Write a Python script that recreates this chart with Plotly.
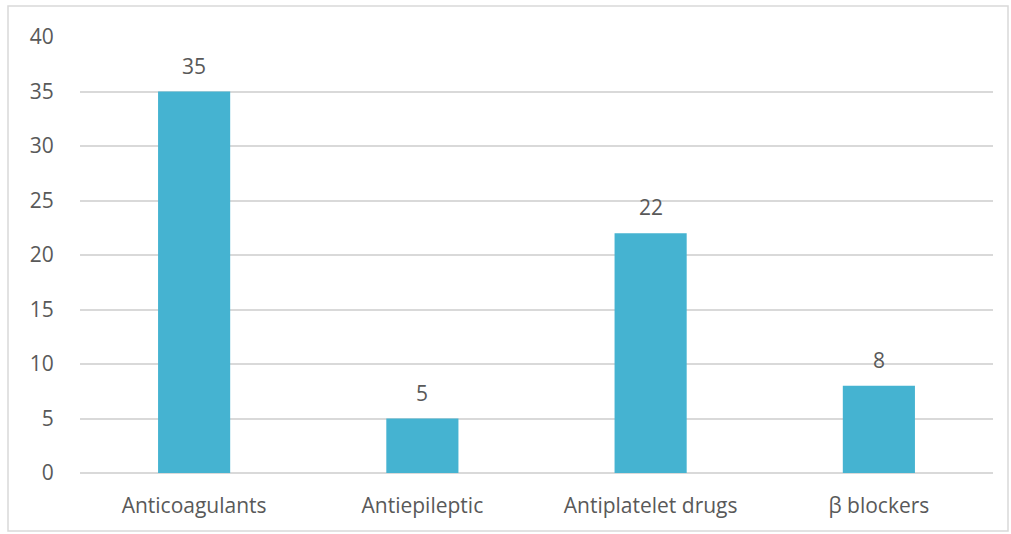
import plotly.graph_objects as go

categories = ["Anticoagulants", "Antiepileptic", "Antiplatelet drugs", "β blockers"]
values = [35, 5, 22, 8]
y_ticks = [0, 5, 10, 15, 20, 25, 30, 35, 40]

W, H = 1011, 534
ml, mr, mt, mb = 80, 18, 37, 61
pw, ph = W - ml - mr, H - mt - mb

text_color = "#595959"
grid_color = "#D9D9D9"
bar_color = "#45B3D1"
font_family = "Open Sans, Liberation Sans, sans-serif"
font_size = 21

fig = go.Figure(
    go.Bar(
        x=categories,
        y=values,
        marker=dict(color=bar_color, line=dict(width=0)),
        width=0.316,
        hoverinfo="x+y",
    )
)

# value labels above each bar
for cat, val in zip(categories, values):
    fig.add_annotation(
        x=cat, y=val, xref="x", yref="y",
        text=str(val), showarrow=False,
        yanchor="middle", yshift=26,
        font=dict(size=font_size, color=text_color, family=font_family),
    )

# outer chart frame
def px_to_paper_x(px):
    return (px - ml) / pw

def px_to_paper_y(py):
    return (H - mb - py) / ph

fig.add_shape(
    type="rect", xref="paper", yref="paper",
    x0=px_to_paper_x(8), x1=px_to_paper_x(1008),
    y0=px_to_paper_y(531), y1=px_to_paper_y(6),
    line=dict(color="#D9D9D9", width=1.5), fillcolor="rgba(0,0,0,0)",
    layer="below",
)

fig.update_layout(
    width=W, height=H,
    margin=dict(l=ml, r=mr, t=mt, b=mb, pad=0),
    paper_bgcolor="white", plot_bgcolor="white",
    showlegend=False,
    font=dict(family=font_family, size=font_size, color=text_color),
    xaxis=dict(
        showgrid=False, showline=False, zeroline=False,
        ticks="outside", ticklen=14, tickcolor="rgba(0,0,0,0)",
        tickfont=dict(size=font_size, color=text_color),
        range=[-0.5, 3.5],
    ),
    yaxis=dict(
        range=[0, 40], tickvals=y_ticks, showgrid=True, gridcolor=grid_color,
        gridwidth=1.5, zeroline=True, zerolinecolor=grid_color, zerolinewidth=1.5,
        showline=False, ticks="outside", ticklen=21, tickcolor="rgba(0,0,0,0)",
        tickfont=dict(size=font_size, color=text_color),
    ),
)

fig.write_html("out.html")
